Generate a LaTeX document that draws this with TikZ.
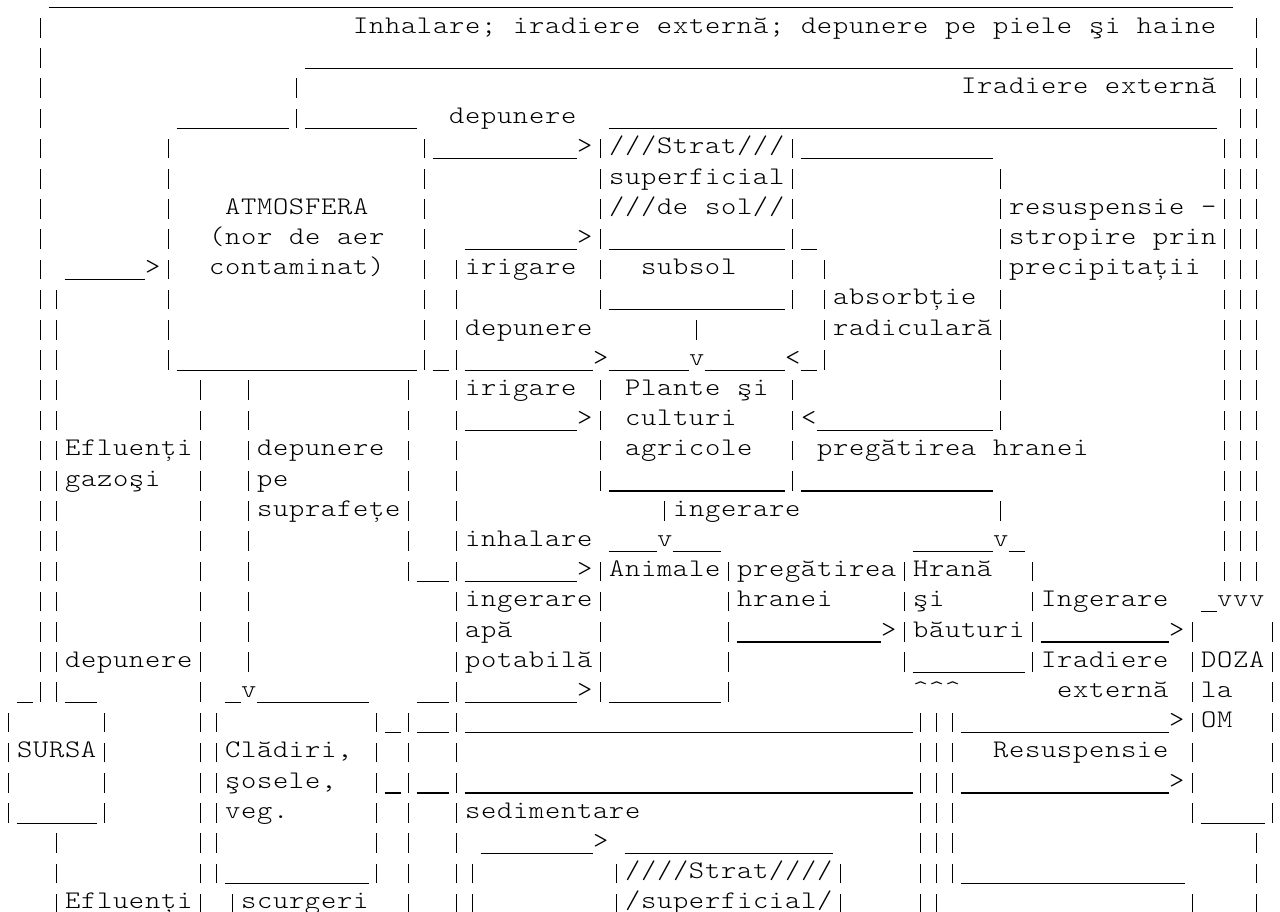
\documentclass[tikz,border=0pt]{standalone}
\usepackage{fontspec}
\newfontfamily\asciifont[FakeStretch=1.15]{lmmonolt10-regular.otf}
\newdimen\cellw \cellw=12pt
\newcommand\vbar{\hbox to \cellw{\hss\vrule width 0.8pt height 11.3pt depth 3.4pt\hss}}
\newcommand\caret{\char"5E\relax}
\def\segend{\segend}
\def\segproc#1{\ifx#1\segend\else\ifx#1|\vbar\else\hbox to \cellw{\hss#1\hss}\fi\expandafter\segproc\fi}
\newcommand\seg[2]{\rlap{\kern\dimexpr#1\cellw\relax\segproc#2\segend}}
\newcommand\us[2]{\rlap{\kern\dimexpr#1\cellw\relax\vrule width \dimexpr#2\cellw\relax height -3.3pt depth 4.2pt}}
\tikzset{rowtext/.style={anchor=base west, inner sep=0pt, outer sep=0pt, text=black,
  font=\asciifont\fontsize{19pt}{19pt}\selectfont}}
\newcommand\asciirow[3]{\node[rowtext] (#1) at (0pt,{-2.1pt-22.65pt*#2}) {#3};}
\begin{document}
\begin{tikzpicture}
\useasboundingbox (0pt,0pt) rectangle (960pt,-683.25pt);
\fill[white] (0pt,0pt) rectangle (960pt,-683.25pt);
\asciirow{row0}{0}{\us{3}{74}}
\asciirow{row1}{1}{\seg{2}{|}\seg{22}{Inhalare;~iradiere~externă;~depunere~pe~piele~şi~haine}\seg{78}{|}}
\asciirow{row2}{2}{\seg{2}{|}\us{19}{58}\seg{78}{|}}
\asciirow{row3}{3}{\seg{2}{|}\seg{18}{|}\seg{60}{Iradiere~externă}\seg{77}{||}}
\asciirow{row4}{4}{\seg{2}{|}\us{11}{7}\seg{18}{|}\us{19}{7}\seg{28}{depunere}\us{38}{38}\seg{77}{||}}
\asciirow{row5}{5}{\seg{2}{|}\seg{10}{|}\seg{26}{|}\us{27}{9}\seg{36}{>|///Strat///|}\us{50}{12}\seg{76}{|||}}
\asciirow{row6}{6}{\seg{2}{|}\seg{10}{|}\seg{26}{|}\seg{37}{|superficial|}\seg{62}{|}\seg{76}{|||}}
\asciirow{row7}{7}{\seg{2}{|}\seg{10}{|}\seg{14}{ATMOSFERA}\seg{26}{|}\seg{37}{|///de~sol//|}\seg{62}{|resuspensie~-|||}}
\asciirow{row8}{8}{\seg{2}{|}\seg{10}{|}\seg{13}{(nor~de~aer}\seg{26}{|}\us{29}{7}\seg{36}{>|}\us{38}{11}\seg{49}{|}\us{50}{1}\seg{62}{|stropire~prin|||}}
\asciirow{row9}{9}{\seg{2}{|}\us{4}{5}\seg{9}{>|}\seg{13}{contaminat)}\seg{26}{|}\seg{28}{|irigare}\seg{37}{|}\seg{40}{subsol}\seg{49}{|}\seg{51}{|}\seg{62}{|precipitații}\seg{76}{|||}}
\asciirow{row10}{10}{\seg{2}{||}\seg{10}{|}\seg{26}{|}\seg{28}{|}\seg{37}{|}\us{38}{11}\seg{49}{|}\seg{51}{|absorbție}\seg{62}{|}\seg{76}{|||}}
\asciirow{row11}{11}{\seg{2}{||}\seg{10}{|}\seg{26}{|}\seg{28}{|depunere}\seg{43}{|}\seg{51}{|radiculară|}\seg{76}{|||}}
\asciirow{row12}{12}{\seg{2}{||}\seg{10}{|}\us{11}{15}\seg{26}{|}\us{27}{1}\seg{28}{|}\us{29}{8}\seg{37}{>}\us{38}{5}\seg{43}{v}\us{44}{5}\seg{49}{<}\us{50}{1}\seg{51}{|}\seg{62}{|}\seg{76}{|||}}
\asciirow{row13}{13}{\seg{2}{||}\seg{12}{|}\seg{15}{|}\seg{25}{|}\seg{28}{|irigare}\seg{37}{|}\seg{39}{Plante~şi}\seg{49}{|}\seg{62}{|}\seg{76}{|||}}
\asciirow{row14}{14}{\seg{2}{||}\seg{12}{|}\seg{15}{|}\seg{25}{|}\seg{28}{|}\us{29}{7}\seg{36}{>|}\seg{39}{culturi}\seg{49}{|<}\us{51}{11}\seg{62}{|}\seg{76}{|||}}
\asciirow{row15}{15}{\seg{2}{||Efluenți|}\seg{15}{|depunere}\seg{25}{|}\seg{28}{|}\seg{37}{|}\seg{39}{agricole}\seg{49}{|}\seg{51}{pregătirea~hranei}\seg{76}{|||}}
\asciirow{row16}{16}{\seg{2}{||gazoşi}\seg{12}{|}\seg{15}{|pe}\seg{25}{|}\seg{28}{|}\seg{37}{|}\us{38}{11}\seg{49}{|}\us{50}{12}\seg{76}{|||}}
\asciirow{row17}{17}{\seg{2}{||}\seg{12}{|}\seg{15}{|suprafețe|}\seg{28}{|}\seg{41}{|ingerare}\seg{62}{|}\seg{76}{|||}}
\asciirow{row18}{18}{\seg{2}{||}\seg{12}{|}\seg{15}{|}\seg{25}{|}\seg{28}{|inhalare}\us{38}{3}\seg{41}{v}\us{42}{3}\us{57}{5}\seg{62}{v}\us{63}{1}\seg{76}{|||}}
\asciirow{row19}{19}{\seg{2}{||}\seg{12}{|}\seg{15}{|}\seg{25}{|}\us{26}{2}\seg{28}{|}\us{29}{7}\seg{36}{>|Animale|pregătirea|Hrană}\seg{64}{|}\seg{76}{|||}}
\asciirow{row20}{20}{\seg{2}{||}\seg{12}{|}\seg{15}{|}\seg{28}{|ingerare|}\seg{45}{|hranei}\seg{56}{|şi}\seg{64}{|Ingerare}\us{75}{1}\seg{76}{vvv}}
\asciirow{row21}{21}{\seg{2}{||}\seg{12}{|}\seg{15}{|}\seg{28}{|apă}\seg{37}{|}\seg{45}{|}\us{46}{9}\seg{55}{>|băuturi|}\us{65}{8}\seg{73}{>|}\seg{79}{|}}
\asciirow{row22}{22}{\seg{2}{||depunere|}\seg{15}{|}\seg{28}{|potabilă|}\seg{45}{|}\seg{56}{|}\us{57}{7}\seg{64}{|Iradiere}\seg{74}{|DOZA|}}
\asciirow{row23}{23}{\us{1}{1}\seg{2}{||}\us{4}{2}\seg{12}{|}\us{14}{1}\seg{15}{v}\us{16}{7}\us{26}{2}\seg{28}{|}\us{29}{7}\seg{36}{>|}\us{38}{7}\seg{45}{|}\seg{57}{\caret\caret\caret}\seg{66}{externă}\seg{74}{|la}\seg{79}{|}}
\asciirow{row24}{24}{\seg{0}{|}\seg{6}{|}\seg{12}{||}\seg{23}{|}\us{24}{1}\seg{25}{|}\us{26}{2}\seg{28}{|}\us{29}{28}\seg{57}{|||}\us{60}{13}\seg{73}{>|OM}\seg{79}{|}}
\asciirow{row25}{25}{\seg{0}{|SURSA|}\seg{12}{||Clădiri,}\seg{23}{|}\seg{25}{|}\seg{28}{|}\seg{57}{|||}\seg{62}{Resuspensie}\seg{74}{|}\seg{79}{|}}
\asciirow{row26}{26}{\seg{0}{|}\seg{6}{|}\seg{12}{||şosele,}\seg{23}{|}\us{24}{1}\seg{25}{|}\us{26}{2}\seg{28}{|}\us{29}{28}\seg{57}{|||}\us{60}{13}\seg{73}{>|}\seg{79}{|}}
\asciirow{row27}{27}{\seg{0}{|}\us{1}{5}\seg{6}{|}\seg{12}{||veg.}\seg{23}{|}\seg{25}{|}\seg{28}{|sedimentare}\seg{57}{|||}\seg{74}{|}\us{75}{4}\seg{79}{|}}
\asciirow{row28}{28}{\seg{3}{|}\seg{12}{||}\seg{23}{|}\seg{25}{|}\seg{28}{|}\us{30}{7}\seg{37}{>}\us{39}{13}\seg{57}{|||}\seg{78}{|}}
\asciirow{row29}{29}{\seg{3}{|}\seg{12}{||}\us{14}{9}\seg{23}{|}\seg{25}{|}\seg{28}{||}\seg{38}{|////Strat////|}\seg{57}{|||}\us{60}{14}\seg{78}{|}}
\asciirow{row30}{30}{\seg{3}{|Efluenți|}\seg{14}{|scurgeri}\seg{25}{|}\seg{28}{||}\seg{38}{|/superficial/|}\seg{57}{||}\seg{74}{|}\seg{78}{|}}
\end{tikzpicture}
\end{document}
